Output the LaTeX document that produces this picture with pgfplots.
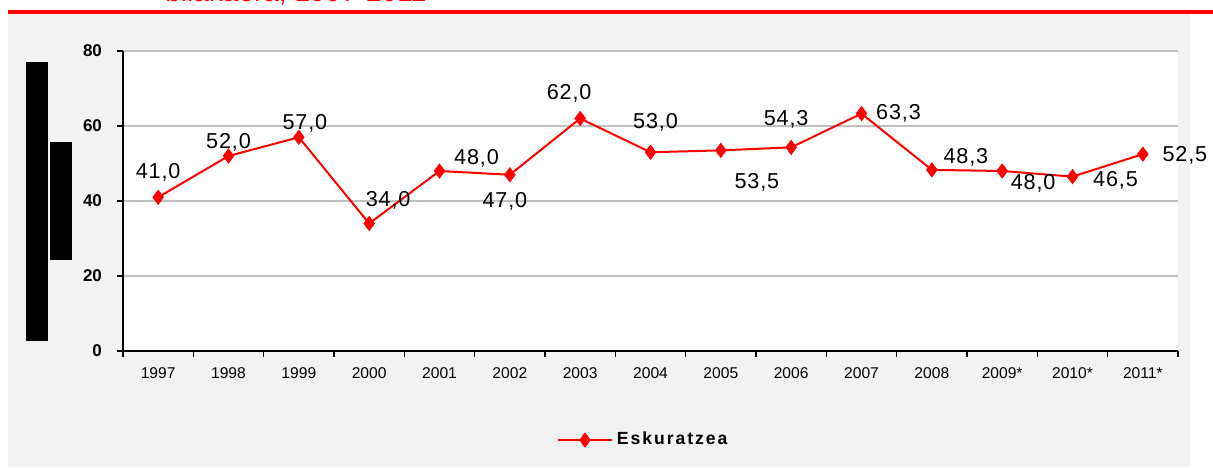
\documentclass[border=0pt]{standalone}
\usepackage{pgfplots}
\pgfplotsset{compat=1.18}
\usepackage{pgfplotstable}
\usepackage{fontspec}
\setmainfont{Liberation Sans}
\newfontfamily\lblfont[LetterSpace=4]{Liberation Sans}
\newfontfamily\legfont[LetterSpace=11]{Liberation Sans}
\definecolor{panel}{HTML}{F2F2F2}
\definecolor{xred}{HTML}{FF0000}
\definecolor{gridc}{HTML}{C0C0C0}

% x = category index, dx/dy = label offset in pt
\pgfplotstableread{
x y dx dy lab
0 41.0 0 12.5 41,0
1 52.0 0 7 52,0
2 57.0 3 7 57,0
3 34.0 9.5 11.75 34,0
4 48.0 18.5 6.5 48,0
5 47.0 -2.5 -13.5 47,0
6 62.0 -5.5 12.75 62,0
7 53.0 2.5 15 53,0
8 53.5 18 -15.8 53,5
9 54.3 -2.5 14 54,3
10 63.3 18.5 0 63,3
11 48.3 17 6.5 48,3
12 48.0 15.5 -6 48,0
13 46.5 21.5 -2 46,5
14 52.5 21 -0.5 52,5
}\datatab

\begin{document}
\begin{tikzpicture}
\useasboundingbox (0,0) rectangle (606.5pt,233.5pt);
\begin{scope}[x=0.5pt,y=-0.5pt,shift={(0,233.5pt)}]
  \fill[panel] (8,14) rectangle (1190,467);
  \fill[xred] (8,10) rectangle (1213,14);
  \node[anchor=base west,text=xred,inner sep=0,font=\fontsize{14}{16}\selectfont] at (165,2) {bilakaera, 1997-2011};
  \fill[black] (26,62) rectangle (48,341);
  \fill[black] (50,142) rectangle (72,260);
\end{scope}
\begin{axis}[
  at={(61.5pt,58pt)},anchor=south west,
  scale only axis,width=527.5pt,height=150pt,
  xmin=-0.5,xmax=14.5,ymin=0,ymax=80,
  axis x line=bottom,axis y line=left,
  axis line style={-,black,line width=0.75pt},
  axis background/.style={fill=white},
  ytick={0,20,...,80},ymajorgrids,grid style={gridc,line width=0.75pt},
  xtick={0,...,14},
  xticklabels={1997,1998,1999,2000,2001,2002,2003,2004,2005,2006,2007,2008,2009*,2010*,2011*},
  minor xtick={-0.5,0.5,...,14.5},
  tick align=outside,major tick length=3pt,minor tick length=3pt,
  tick style={black,line width=0.75pt},
  major x tick style={draw=none},
  /pgf/number format/assume math mode=true,
  yticklabel style={font=\bfseries\fontsize{8.5}{10}\selectfont,xshift=-4pt},
  xticklabel style={font=\fontsize{7.8}{9}\selectfont,yshift=-2pt},
  legend style={at={(0.494,-0.297)},anchor=center,draw=none,fill=none,
    font=\legfont\bfseries\fontsize{8.8}{10}\selectfont},
  legend image code/.code={
    \draw[#1,mark=none] (0pt,0pt)--(27pt,0pt);
    \draw[#1,only marks] plot coordinates {(13.5pt,0pt)};},
]
\addplot[color=xred,line width=1pt,mark=diamond*,mark size=3.6pt,
  mark options={fill=xred,draw=xred,line width=0.3pt},
  nodes near coords,point meta=explicit symbolic,
  visualization depends on={\thisrow{dx} \as \dx},
  visualization depends on={\thisrow{dy} \as \dy},
  every node near coord/.append style={anchor=center,xshift=\dx pt,yshift=\dy pt,
    text=black,font=\lblfont\fontsize{10.8}{12}\selectfont}]
  table[x=x,y=y,meta=lab]{\datatab};
\addlegendentry{Eskuratzea}
\end{axis}
\end{tikzpicture}
\end{document}
